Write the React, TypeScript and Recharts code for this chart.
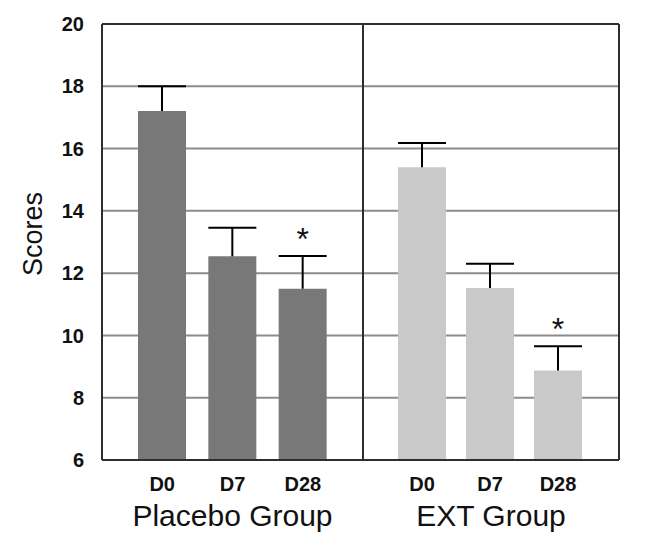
import React from "react";
import {
  ComposedChart,
  Bar,
  XAxis,
  YAxis,
  CartesianGrid,
  ReferenceLine,
  LabelList,
} from "recharts";

const categories = ["D0", "D7", "D28"];
const placeboMeans = [17.21, 12.54, 11.5];
const placeboErrors = [0.79, 0.92, 1.05];
const placeboMarks = ["", "", "*"];
const extMeans = [15.4, 11.52, 8.87];
const extErrors = [0.78, 0.78, 0.78];
const extMarks = ["", "", "*"];
const yTicks = [6, 8, 10, 12, 14, 16, 18, 20];
const groupNames = ["Placebo Group", "EXT Group"];
const yLabel = "Scores";

const FONT = "'Liberation Sans', Arial, Helvetica, sans-serif";
const FRAME = "#2e2e2e";

const build = (means: number[], errs: number[], marks: string[]) =>
  categories.map((c, i) => ({ day: c, mean: means[i], err: errs[i], mark: marks[i] }));

const placeboData = build(placeboMeans, placeboErrors, placeboMarks);
const extData = build(extMeans, extErrors, extMarks);

function Whisker(props: any) {
  const { x, y, width, height } = props;
  if (x == null || y == null) return null;
  const cx = x + width / 2;
  return (
    <g>
      <line x1={cx} x2={cx} y1={y + height} y2={y} stroke="#000" strokeWidth={2} />
      <line x1={x} x2={x + width} y1={y} y2={y} stroke="#000" strokeWidth={2} />
    </g>
  );
}

function ScoresLabel(props: any) {
  const vb = props.viewBox || { x: 0, y: 24, width: 102, height: 436 };
  const cx = vb.x + 42;
  const cy = vb.y + vb.height / 2 - 8;
  return (
    <text
      x={cx}
      y={cy}
      transform={`rotate(-90 ${cx} ${cy})`}
      textAnchor="middle"
      fontSize={27}
      fill="#111"
      fontFamily={FONT}
    >
      {yLabel}
    </text>
  );
}

function Panel(props: {
  data: any[];
  color: string;
  name: string;
  showY: boolean;
  width: number;
  padding: { left: number; right: number };
}) {
  const { data, color, name, showY, width, padding } = props;
  return (
    <ComposedChart
      width={width}
      height={551}
      data={data}
      margin={{ top: 24, right: 0, bottom: 10, left: 0 }}
      barSize={48}
      style={{ overflow: "visible" }}
    >
      <CartesianGrid vertical={false} stroke="#8c8c8c" strokeWidth={2} />
      <CartesianGrid
        horizontal={false}
        stroke={FRAME}
        strokeWidth={2}
        verticalCoordinatesGenerator={({ offset }: any) => [offset.left, offset.left + offset.width]}
      />
      <XAxis
        dataKey="day"
        height={81}
        padding={padding}
        tickLine={false}
        tickSize={0}
        tickMargin={17}
        interval={0}
        axisLine={{ stroke: FRAME, strokeWidth: 2 }}
        tick={{ fontSize: 20, fontWeight: "bold", fill: "#111", fontFamily: FONT }}
        label={{
          value: name,
          position: "insideBottom",
          offset: 15,
          fontSize: 30,
          fill: "#111",
          fontFamily: FONT,
        }}
      />
      <YAxis
        hide={!showY}
        width={102}
        domain={[6, 20]}
        allowDataOverflow={true}
        ticks={yTicks}
        interval={0}
        tickLine={false}
        tickSize={0}
        tickMargin={18}
        axisLine={false}
        tick={{ fontSize: 20, fontWeight: "bold", fill: "#111", fontFamily: FONT }}
        label={showY ? { content: (p: any) => <ScoresLabel {...p} /> } : undefined}
      />
      <ReferenceLine y={20} stroke={FRAME} strokeWidth={2} />
      <Bar dataKey="mean" stackId="s" fill={color} isAnimationActive={false} />
      <Bar dataKey="err" stackId="s" shape={<Whisker />} isAnimationActive={false}>
        <LabelList
          dataKey="mark"
          position="top"
          offset={6}
          style={{ fontSize: 32, fill: "#111", fontFamily: FONT }}
        />
      </Bar>
    </ComposedChart>
  );
}

export default function App() {
  return (
    <div
      style={{
        position: "absolute",
        left: 0,
        top: 0,
        width: 655,
        height: 551,
        background: "#fff",
      }}
    >
      <style>{`.recharts-surface{overflow:visible}`}</style>
      <div style={{ position: "absolute", left: 0, top: 0 }}>
        <Panel
          data={placeboData}
          color="#787878"
          name={groupNames[0]}
          showY={true}
          width={363}
          padding={{ left: 25, right: 25 }}
        />
      </div>
      <div style={{ position: "absolute", left: 363, top: 0 }}>
        <Panel
          data={extData}
          color="#c9c9c9"
          name={groupNames[1]}
          showY={false}
          width={256}
          padding={{ left: 25, right: 27 }}
        />
      </div>
    </div>
  );
}
